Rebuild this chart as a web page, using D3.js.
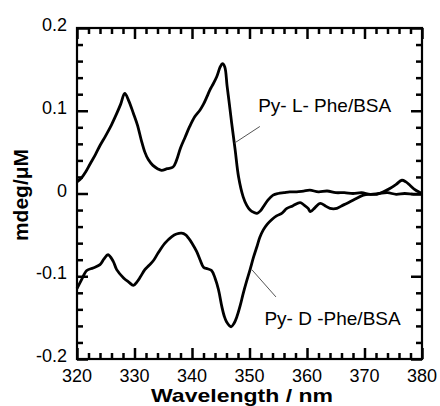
<!DOCTYPE html>
<html><head><meta charset="utf-8">
<script src="https://cdn.jsdelivr.net/npm/d3@7"></script>
<style>
html,body{margin:0;padding:0;background:#fff;}
svg{display:block;}
text{font-family:"Liberation Sans",Arial,Helvetica,sans-serif;fill:#000;}
</style></head>
<body>
<svg id="chart" width="440" height="406"></svg>
<script>
// ---- data ----
const xTicks = [320, 330, 340, 350, 360, 370, 380];
const yTicks = [-0.2, -0.1, 0, 0.1, 0.2];
const yTickLabels = ["-0.2", "-0.1", "0", "0.1", "0.2"];
const xTitle = "Wavelength / nm";
const yTitle = "mdeg/\u03bcM";
const labelL = "Py- L- Phe/BSA";
const labelD = "Py- D -Phe/BSA";

const wlL = [320.0,320.8,321.5,322.3,323.2,324.0,325.0,326.0,326.8,327.6,328.3,329.0,329.8,330.5,331.2,331.8,332.4,333.2,334.0,334.7,335.7,336.7,337.3,338.0,338.8,339.6,340.5,341.4,342.0,342.6,343.1,343.5,344.3,344.9,345.3,345.7,346.1,346.5,346.9,347.5,348.1,348.9,349.5,350.1,350.8,351.3,351.9,352.4,353.2,354.1,355.0,356.0,357.0,358.2,359.4,360.5,362.0,363.5,365.0,366.5,368.0,369.5,371.0,372.5,374.0,375.5,377.0,378.5,380.0];
const cdL = [0.014,0.019,0.026,0.036,0.047,0.058,0.070,0.083,0.095,0.108,0.121,0.112,0.097,0.083,0.064,0.050,0.041,0.034,0.030,0.028,0.030,0.032,0.040,0.055,0.068,0.081,0.093,0.101,0.108,0.117,0.125,0.130,0.141,0.153,0.157,0.153,0.130,0.108,0.085,0.053,0.020,-0.004,-0.014,-0.020,-0.023,-0.024,-0.021,-0.016,-0.008,-0.002,0.000,0.001,0.002,0.002,0.003,0.004,0.002,0.003,0.001,0.001,0.000,0.001,-0.001,0.000,0.001,-0.001,0.000,-0.001,-0.001];

const wlD = [320.0,320.8,321.7,322.8,324.0,324.7,325.4,326.3,326.9,328.1,329.0,329.8,330.4,331.0,331.8,332.5,333.3,334.1,335.3,336.5,337.3,338.2,338.9,339.4,340.0,340.8,341.4,342.0,342.7,343.4,344.0,344.6,345.2,345.6,346.0,346.8,347.3,347.8,348.4,348.9,349.5,350.1,350.7,351.3,351.8,352.4,353.1,353.8,354.7,355.6,356.5,357.5,358.8,359.5,360.2,360.6,361.4,362.3,363.2,364.0,365.2,366.0,366.9,368.3,369.8,371.0,372.1,373.3,374.4,375.5,376.5,377.2,377.9,378.7,379.4,380.0];
const cdD = [-0.115,-0.104,-0.093,-0.090,-0.086,-0.079,-0.074,-0.082,-0.092,-0.102,-0.107,-0.111,-0.107,-0.101,-0.092,-0.087,-0.081,-0.072,-0.060,-0.052,-0.049,-0.048,-0.050,-0.054,-0.060,-0.070,-0.080,-0.089,-0.091,-0.093,-0.102,-0.116,-0.137,-0.148,-0.155,-0.161,-0.157,-0.149,-0.135,-0.121,-0.106,-0.092,-0.077,-0.064,-0.053,-0.044,-0.037,-0.032,-0.027,-0.024,-0.018,-0.015,-0.011,-0.014,-0.018,-0.022,-0.017,-0.012,-0.015,-0.018,-0.018,-0.015,-0.012,-0.007,-0.002,-0.001,-0.001,0.002,0.006,0.011,0.016,0.014,0.010,0.005,0.002,0.000];

const annL = {text: labelL, tx: 351.5, ty: 0.098, x1: 351.8, y1: 0.081, x2: 347.4, y2: 0.061};
const annD = {text: labelD, tx: 352.6, ty: -0.1585, x1: 354.6, y1: -0.125, x2: 350.4, y2: -0.092};

// ---- layout ----
const svg = d3.select("#chart");
const m = {left: 77, right: 422, top: 28, bottom: 359};
const x = d3.scaleLinear().domain([320, 380]).range([m.left, m.right]);
const y = d3.scaleLinear().domain([-0.2, 0.2]).range([m.bottom, m.top]);

const xMinor = d3.range(320, 381, 2).filter(v => v % 10 !== 0);
const yMinor = d3.range(-10, 11, 1).filter(v => v % 5 !== 0).map(v => v * 0.02);

// frame
svg.append("rect").attr("x", m.left).attr("y", m.top)
  .attr("width", m.right - m.left).attr("height", m.bottom - m.top)
  .attr("fill", "none").attr("stroke", "#000").attr("stroke-width", 2.2);

// ticks via d3 axes (inward)
function cleanAxis(g) {
  g.select(".domain").remove();
  g.selectAll(".tick line").attr("stroke", "#000").attr("stroke-width", 2.5);
}
const axes = [
  [d3.axisBottom(x).tickValues(xTicks).tickSize(-11), `translate(0,${m.bottom})`],
  [d3.axisBottom(x).tickValues(xMinor).tickSize(-6), `translate(0,${m.bottom})`],
  [d3.axisTop(x).tickValues(xTicks).tickSize(-11), `translate(0,${m.top})`],
  [d3.axisTop(x).tickValues(xMinor).tickSize(-6), `translate(0,${m.top})`],
  [d3.axisLeft(y).tickValues(yTicks).tickSize(-11), `translate(${m.left},0)`],
  [d3.axisLeft(y).tickValues(yMinor).tickSize(-6), `translate(${m.left},0)`],
  [d3.axisRight(y).tickValues(yTicks).tickSize(-11), `translate(${m.right},0)`],
  [d3.axisRight(y).tickValues(yMinor).tickSize(-6), `translate(${m.right},0)`]
];
axes.forEach(([ax, tr]) => {
  svg.append("g").attr("transform", tr).call(ax.tickFormat("")).call(cleanAxis);
});

// tick labels
svg.append("g").selectAll("text").data(xTicks).join("text")
  .attr("x", d => x(d)).attr("y", 382).attr("text-anchor", "middle")
  .style("font-size", "18px").text(d => d3.format("d")(d));
svg.append("g").selectAll("text").data(yTicks).join("text")
  .attr("x", m.left - 10).attr("y", d => y(d)).attr("dy", "0.18em").attr("text-anchor", "end")
  .style("font-size", "18px").text((d, i) => yTickLabels[i]);

// curves
const line = d3.line().x(d => x(d[0])).y(d => y(d[1])).curve(d3.curveCatmullRom.alpha(0.5));
svg.append("path").datum(d3.zip(wlL, cdL)).attr("d", line)
  .attr("fill", "none").attr("stroke", "#000").attr("stroke-width", 2.8).attr("stroke-linejoin", "round");
svg.append("path").datum(d3.zip(wlD, cdD)).attr("d", line)
  .attr("fill", "none").attr("stroke", "#000").attr("stroke-width", 2.8).attr("stroke-linejoin", "round");

// annotations
[annL, annD].forEach(a => {
  svg.append("line").attr("x1", x(a.x1)).attr("y1", y(a.y1)).attr("x2", x(a.x2)).attr("y2", y(a.y2))
    .attr("stroke", "#555").attr("stroke-width", 1);
  svg.append("text").attr("x", x(a.tx)).attr("y", y(a.ty))
    .style("font-size", "19px").text(a.text);
});

// titles
svg.append("text").attr("x", 242).attr("y", 401.5).attr("text-anchor", "middle")
  .attr("textLength", 182).attr("lengthAdjust", "spacingAndGlyphs")
  .style("font-size", "19px").style("font-weight", "bold").text(xTitle);
svg.append("text").attr("transform", "translate(28,195) rotate(-90)").attr("text-anchor", "middle")
  .style("font-size", "21px").style("font-weight", "bold").text(yTitle);
</script>
</body></html>
